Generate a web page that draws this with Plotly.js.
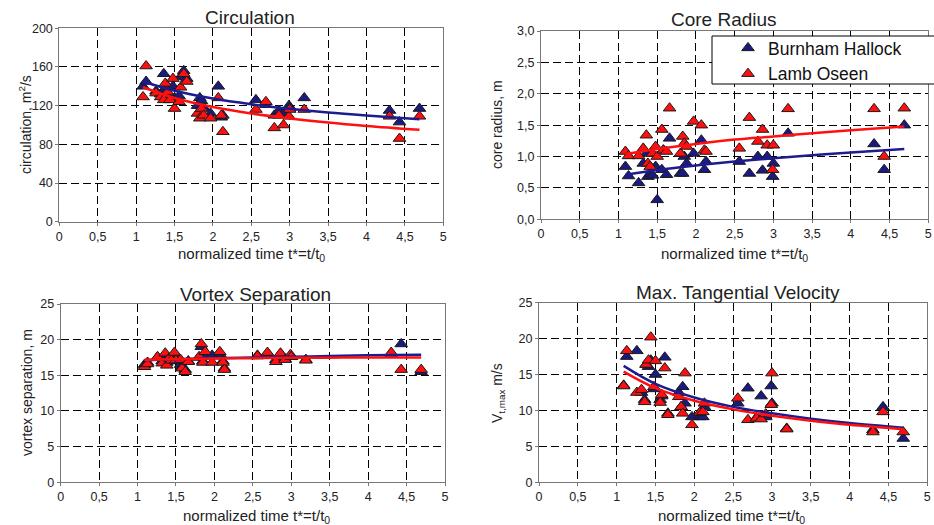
<!DOCTYPE html>
<html><head><meta charset="utf-8">
<script src="https://cdn.plot.ly/plotly-3.0.1.min.js"></script>
<style>html,body{margin:0;padding:0;background:#fff}#chart{width:934px;height:525px}</style>
</head><body><div id="chart"></div>
<script>
// event times (normalized time t* = t/t0)
const t = [1.09,1.13,1.26,1.32,1.36,1.38,1.41,1.44,1.48,1.50,1.56,1.58,1.62,1.66,1.80,1.83,1.85,1.88,1.97,2.07,2.11,2.13,2.56,2.69,2.80,2.86,2.92,2.99,3.00,3.19,4.30,4.43,4.69];

// Circulation, m^2/s
const circBH = [140,145,135,132,153,138,140,130,140,128,130,150,156,148,120,128,125,118,112,140,108,110,126,121,110,115,112,120,118,128,115,103,117];
const circLO = [129,161,133,129,126,143,134,126,148,117,124,139,153,145,112,107,117,110,107,128,110,93,116,124,97,110,100,109,116,116,109,86,109];

// Core radius, m
const coreBH = [0.84,0.69,0.58,0.89,1.05,0.68,0.73,0.70,0.84,0.31,0.79,1.10,0.71,1.29,0.73,0.73,1.00,0.89,1.05,1.26,0.79,0.92,0.92,0.73,1.00,0.78,1.00,0.68,0.89,1.37,1.20,0.79,1.50];
const coreLO = [1.08,1.01,1.01,1.13,1.34,0.89,0.84,1.05,1.16,1.00,1.43,1.10,1.08,1.77,1.05,1.32,1.21,1.16,1.56,1.50,1.10,1.08,1.13,1.62,1.24,1.43,1.18,0.79,1.18,1.76,1.76,1.00,1.77];

// Vortex separation, m
const sepBH = [16.5,16.8,17.5,17.0,17.8,16.8,17.2,17.0,17.8,17.3,16.5,16.2,15.8,17.0,17.5,19.0,17.0,17.8,17.8,18.0,17.0,16.0,17.8,18.0,17.2,18.0,17.3,17.8,17.6,17.2,18.0,19.4,15.5];
const sepLO = [16.2,16.6,17.6,16.7,18.1,16.4,17.4,17.1,18.2,17.1,17.2,16.0,15.5,16.9,17.6,19.4,16.8,18.3,16.8,18.3,16.8,15.8,17.7,18.2,16.9,18.1,17.2,17.9,17.6,17.1,18.2,15.8,15.8];

// Max. tangential velocity, m/s
const velBH = [13.5,17.5,18.3,12.5,11.5,16.4,16.1,17.0,13.0,15.0,11.5,12.0,17.4,9.6,12.5,10.5,13.3,11.0,9.1,9.1,9.1,10.5,11.0,13.1,9.0,12.0,9.1,13.4,11.0,7.5,7.3,10.5,6.1];
const velLO = [13.4,18.3,12.5,12.9,11.2,16.4,17.0,20.2,13.3,16.9,11.1,12.2,15.9,9.4,11.9,10.5,9.6,15.2,8.0,9.7,9.8,11.0,11.7,8.7,8.9,8.8,9.5,10.8,15.2,7.4,7.0,9.8,7.0];

// fit curves
const fitT = [1.09,1.5,2,2.5,3,3.5,4,4.69];
const circFitBH = [145,135.4,127.3,121.4,116.7,112.8,109.7,106];
const circFitLO = [139,127.9,118.6,111.9,106.8,102.5,99,95];
const coreFitBH = [0.71,0.785,0.858,0.92,0.973,1.02,1.065,1.12];
const coreFitLO = [1.04,1.12,1.20,1.27,1.32,1.37,1.42,1.48];
const sepFitBH = [17.1,17.25,17.4,17.5,17.6,17.7,17.8,17.9];
const sepFitLO = [17.2,17.27,17.35,17.4,17.45,17.48,17.5,17.5];
const velFitBH = [16.2,13.7,11.8,10.5,9.6,8.85,8.25,7.6];
const velFitLO = [15.4,13.1,11.35,10.15,9.27,8.58,8.0,7.4];

const seriesNames = ['Burnham Hallock','Lamb Oseen'];
const panelTitles = ['Circulation','Core Radius','Vortex Separation','Max. Tangential Velocity'];
const yTitles = ['circulation, m<sup>2</sup>/s','core radius, m','vortex separation, m','V<sub>t,max</sub> m/s'];
const xTitle = 'normalized time t*=t/t<sub>0</sub>';

const W = 934, H = 525;
const BLUE = '#1a1a80', BLUE_LINE = '#1c1c90', RED = '#ff1010';
const FONT = 'Liberation Sans, Arial, sans-serif';

const panels = [
  {bh: circBH, lo: circLO, fbh: circFitBH, flo: circFitLO, yr:[0,200], dy:40, fmt:'', px:[59.3,443.3], py:[221.7,28.3]},
  {bh: coreBH, lo: coreLO, fbh: coreFitBH, flo: coreFitLO, yr:[0,3], dy:0.5, fmt:'.1f', px:[541,928.3], py:[219.3,31]},
  {bh: sepBH, lo: sepLO, fbh: sepFitBH, flo: sepFitLO, yr:[0,25], dy:5, fmt:'', px:[60.7,445], py:[482.3,304]},
  {bh: velBH, lo: velLO, fbh: velFitBH, flo: velFitLO, yr:[0,25], dy:5, fmt:'', px:[539,927.3], py:[482.3,302.7]}
];

const traces = [];
const layout = {
  width: W, height: H,
  margin: {l:0, r:0, t:0, b:0},
  paper_bgcolor: '#fff', plot_bgcolor: '#fff',
  separators: ',.',
  font: {family: FONT, size: 12, color: '#222'},
  showlegend: true,
  legend: {x: 728/W, y: 1 - 30/H, xanchor: 'left', yanchor: 'top',
           bgcolor: 'rgba(0,0,0,0)', borderwidth: 0,
           font: {family: FONT, size: 17.5, color: '#111'}, itemwidth: 30,
           tracegroupgap: 0},
  shapes: [{type: 'rect', xref: 'paper', yref: 'paper', x0: 712/W, x1: 1.02, y0: 1 - 84/H, y1: 1 - 36/H,
            line: {color: '#000', width: 1}, fillcolor: '#fff', layer: 'above'}],
  annotations: []
};

panels.forEach((p, i) => {
  const n = i === 0 ? '' : String(i + 1);
  const xa = 'x' + n, ya = 'y' + n;
  const common = {showline: true, mirror: true, linecolor: '#777', linewidth: 1,
    showgrid: true, gridcolor: '#000', gridwidth: 1, griddash: '8px,4px',
    zeroline: false, ticks: 'outside', ticklen: 3, tickcolor: '#777',
    tickfont: {family: FONT, size: 12.5, color: '#222'}, fixedrange: true};
  layout['xaxis' + n] = Object.assign({}, common, {
    domain: [p.px[0]/W, p.px[1]/W], range: [0, 5], dtick: 0.5, tick0: 0,
    anchor: ya});
  layout['yaxis' + n] = Object.assign({}, common, {
    domain: [1 - p.py[0]/H, 1 - p.py[1]/H], range: p.yr, dtick: p.dy, tick0: 0,
    tickformat: p.fmt, anchor: xa});

  const mk = (c) => ({symbol: 'triangle-up', size: 11, color: c, line: {color: '#1a1a1a', width: 1}});
  traces.push({type: 'scatter', mode: 'markers', x: t, y: p.bh, xaxis: xa, yaxis: ya,
    name: seriesNames[0], showlegend: i === 0, marker: mk(BLUE), cliponaxis: false});
  traces.push({type: 'scatter', mode: 'markers', x: t, y: p.lo, xaxis: xa, yaxis: ya,
    name: seriesNames[1], showlegend: i === 0, marker: mk(RED), cliponaxis: false});
  traces.push({type: 'scatter', mode: 'lines', x: fitT, y: p.fbh, xaxis: xa, yaxis: ya,
    showlegend: false, hoverinfo: 'skip', line: {color: BLUE_LINE, width: 2.5, shape: 'spline'}});
  traces.push({type: 'scatter', mode: 'lines', x: fitT, y: p.flo, xaxis: xa, yaxis: ya,
    showlegend: false, hoverinfo: 'skip', line: {color: RED, width: 2.5, shape: 'spline'}});
});

// titles and axis titles placed as text
const titlePos = [[250,18],[724,19],[255,294],[738,292]];
const xTitlePos = [[252,254],[734,254],[256,516],[731,516]];
const yTitlePos = [[25,125],[497,125],[27,393],[498,393]];
panelTitles.forEach((s, i) => {
  layout.annotations.push({text: s, xref: 'paper', yref: 'paper', x: titlePos[i][0]/W, y: 1 - titlePos[i][1]/H,
    xanchor: 'center', yanchor: 'middle', showarrow: false, font: {family: FONT, size: 19, color: '#222'}});
  layout.annotations.push({text: xTitle, xref: 'paper', yref: 'paper', x: xTitlePos[i][0]/W, y: 1 - xTitlePos[i][1]/H,
    xanchor: 'center', yanchor: 'middle', showarrow: false, font: {family: FONT, size: 15, color: '#222'}});
  layout.annotations.push({text: yTitles[i], xref: 'paper', yref: 'paper', x: yTitlePos[i][0]/W, y: 1 - yTitlePos[i][1]/H,
    xanchor: 'center', yanchor: 'middle', textangle: -90, showarrow: false, font: {family: FONT, size: 14, color: '#222'}});
});

Plotly.newPlot('chart', traces, layout, {displayModeBar: false, staticPlot: true});
</script></body></html>
